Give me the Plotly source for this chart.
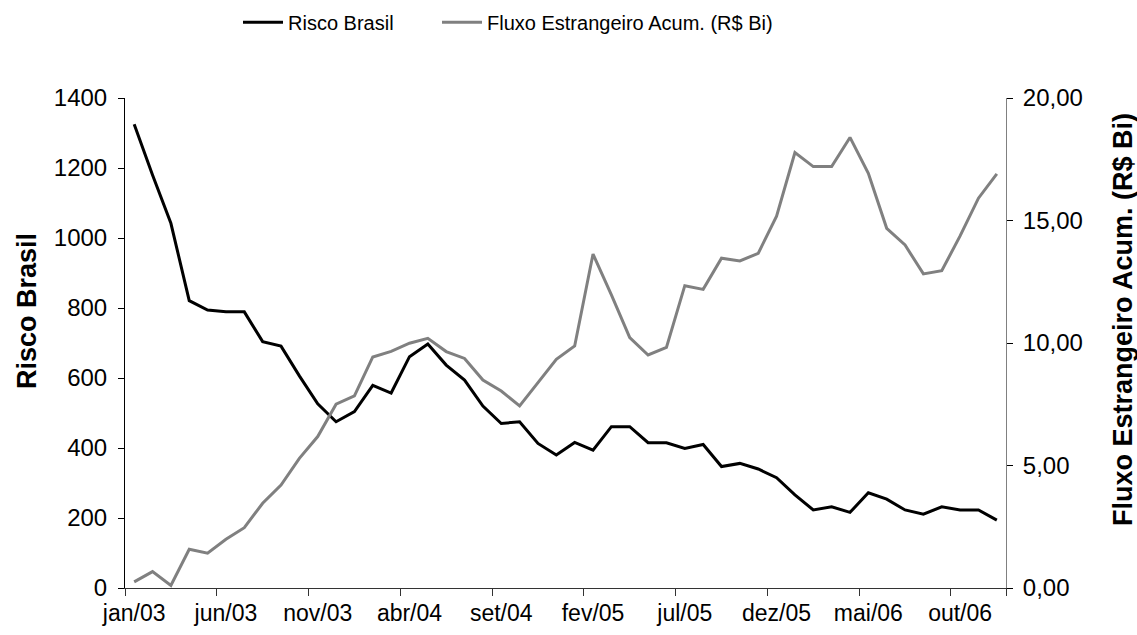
import plotly.graph_objects as go

meses = ["jan", "fev", "mar", "abr", "mai", "jun", "jul", "ago", "set", "out", "nov", "dez"]
anos = ["03", "04", "05", "06"]
categorias = [f"{m}/{a}" for a in anos for m in meses]

risco_brasil = [1325, 1180, 1042, 821, 794, 789, 789, 704, 691, 606,
                526, 475, 504, 579, 557, 661, 697, 637, 594, 520,
                470, 475, 413, 380, 416, 394, 461, 461, 415, 415,
                399, 410, 347, 356, 340, 315, 266, 223, 232, 216,
                272, 254, 223, 211, 232, 223, 223, 194]

fluxo_estrangeiro = [0.25, 0.67, 0.10, 1.58, 1.42, 1.99, 2.46, 3.46, 4.20, 5.29,
                     6.18, 7.50, 7.84, 9.43, 9.66, 9.99, 10.19, 9.65, 9.37, 8.49,
                     8.04, 7.43, 8.38, 9.33, 9.88, 13.63, 11.96, 10.22, 9.51, 9.82,
                     12.34, 12.19, 13.46, 13.35, 13.66, 15.18, 17.77, 17.20, 17.20, 18.39,
                     16.93, 14.68, 14.00, 12.82, 12.95, 14.37, 15.91, 16.90]

titulo_esq = "Risco Brasil"
titulo_dir = "Fluxo Estrangeiro Acum. (R$ Bi)"

idx = list(range(len(categorias)))
tick_pos = idx[::5]
tick_txt = categorias[::5]
bounds = [i - 0.5 for i in tick_pos] + [len(categorias) - 0.5]

FONT = "Liberation Sans, Arial, sans-serif"

fig = go.Figure()
fig.add_trace(go.Scatter(x=idx, y=risco_brasil, mode="lines", name="Risco Brasil",
                         line=dict(color="#000000", width=3), yaxis="y",
                         legend="legend"))
fig.add_trace(go.Scatter(x=idx, y=fluxo_estrangeiro, mode="lines",
                         name="Fluxo Estrangeiro Acum. (R$ Bi)",
                         line=dict(color="#808080", width=3), yaxis="y2",
                         legend="legend2"))

xr = [-0.5, len(categorias) - 0.5]
leg_common = dict(orientation="h", xref="container", yref="container",
                  xanchor="left", y=0.965, yanchor="middle",
                  font=dict(size=20), itemwidth=40, bgcolor="rgba(0,0,0,0)")
fig.update_layout(
    width=1137, height=635,
    margin=dict(l=125, r=131, t=98, b=47, autoexpand=False),
    paper_bgcolor="white", plot_bgcolor="white",
    separators=",.",
    font=dict(family=FONT, size=20, color="#000000"),
    showlegend=True,
    legend=dict(x=238 / 1137, **leg_common),
    legend2=dict(x=437 / 1137, **leg_common),
    xaxis=dict(range=xr, tickmode="array", tickvals=tick_pos, ticktext=tick_txt,
               ticks="", showgrid=False, zeroline=False,
               showline=True, linecolor="#333333", linewidth=1,
               minor=dict(tickmode="array", tickvals=bounds, ticks="outside",
                          ticklen=7, tickcolor="#333333", showgrid=False),
               tickfont=dict(size=23), ticklabelstandoff=4),
    xaxis3=dict(range=xr, overlaying="x", anchor="y", side="bottom",
                tickmode="array", tickvals=bounds, ticks="inside", ticklen=7,
                tickcolor="#333333", showticklabels=False, showline=False,
                showgrid=False, zeroline=False),
    yaxis=dict(range=[0, 1400], dtick=200, tickformat="d", ticks="outside", ticklen=6,
               tickcolor="#000000", showline=True, linecolor="#000000", linewidth=1,
               showgrid=False, zeroline=False, tickfont=dict(size=24),
               ticklabelstandoff=6),
    yaxis3=dict(range=[0, 1400], dtick=200, overlaying="y", side="left", anchor="x",
                ticks="inside", ticklen=6, tickcolor="#000000",
                showticklabels=False, showline=False, showgrid=False, zeroline=False),
    yaxis2=dict(range=[0, 20], dtick=5, tickformat=".2f", overlaying="y", side="right",
                anchor="x", ticks="outside", ticklen=6, tickcolor="#000000",
                showline=True, linecolor="#808080", linewidth=1,
                showgrid=False, zeroline=False, tickfont=dict(size=24),
                ticklabelstandoff=5),
    yaxis4=dict(range=[0, 20], dtick=5, overlaying="y", side="right", anchor="x",
                ticks="inside", ticklen=6, tickcolor="#000000",
                showticklabels=False, showline=False, showgrid=False, zeroline=False),
    annotations=[
        dict(text=f"<b>{titulo_esq}</b>", textangle=-90, showarrow=False,
             xref="paper", yref="paper", x=(27 - 125) / 881, y=(588 - 311) / 490,
             xanchor="center", yanchor="middle", font=dict(size=27)),
        dict(text=f"<b>{titulo_dir}</b>", textangle=-90, showarrow=False,
             xref="paper", yref="paper", x=(1123 - 125) / 881, y=(588 - 320) / 490,
             xanchor="center", yanchor="middle", font=dict(size=27)),
    ],
)

fig.write_html("out.html", config={"displayModeBar": False},
               post_script="document.body.style.margin='0px';")
